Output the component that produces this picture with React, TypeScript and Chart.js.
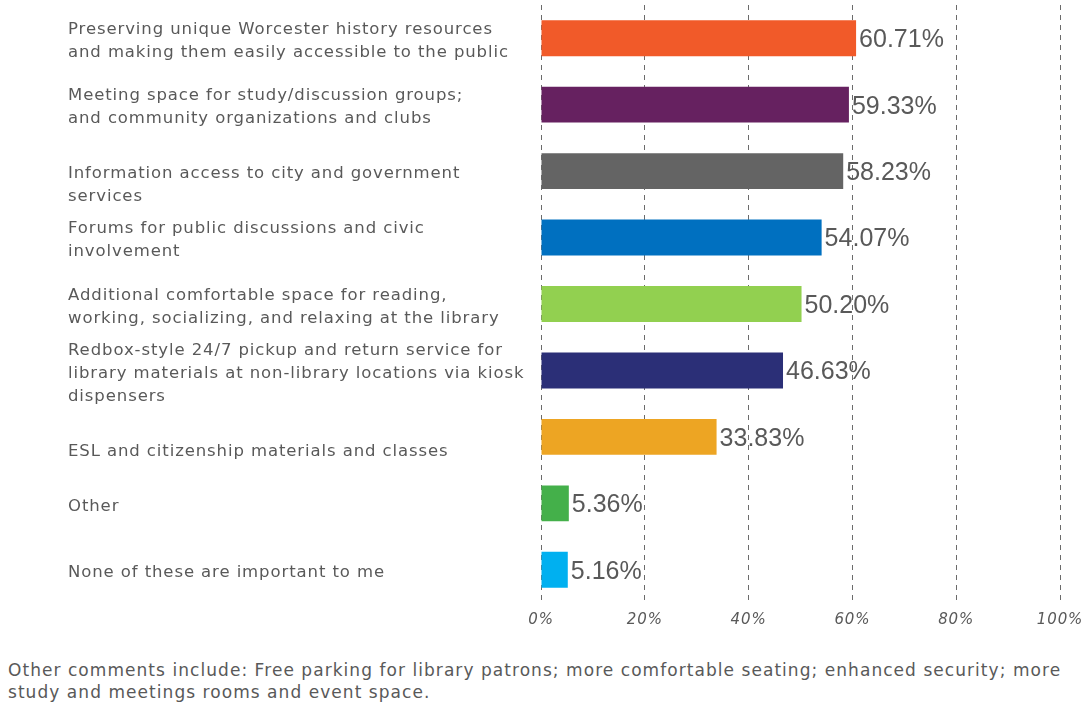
import React, { useEffect, useRef } from "react";
import { Chart, registerables } from "chart.js";

Chart.register(...registerables);

const categories: string[][] = [
  ["Preserving unique Worcester history resources", "and making them easily accessible to the public"],
  ["Meeting space for study/discussion groups;", "and community organizations and clubs"],
  ["", "Information access to city and government", "services"],
  ["Forums for public discussions and civic", "involvement"],
  ["Additional comfortable space for reading,", "working, socializing, and relaxing at the library"],
  ["Redbox-style 24/7 pickup and return service for", "library materials at non-library locations via kiosk", "dispensers"],
  ["", "ESL and citizenship materials and classes"],
  ["Other"],
  ["None of these are important to me"],
];

const values: number[] = [60.71, 59.33, 58.23, 54.07, 50.2, 46.63, 33.83, 5.36, 5.16];

const barColors: string[] = [
  "#F15A29",
  "#662160",
  "#646464",
  "#0070C0",
  "#92D050",
  "#2B2F77",
  "#EDA523",
  "#44B04A",
  "#00B0F0",
];

const xTicks: number[] = [0, 20, 40, 60, 80, 100];

const footnote: string[] = [
  "Other comments include: Free parking for library patrons; more comfortable seating; enhanced security; more",
  "study and meetings rooms and event space.",
];

const TEXT = "#595959";

const spacing = {
  id: "spacing",
  beforeDraw(chart: any) {
    chart.ctx.letterSpacing = "0.9px";
  },
  afterDraw(chart: any) {
    chart.ctx.letterSpacing = "0px";
  },
};

const valueLabels = {
  id: "valueLabels",
  afterDatasetsDraw(chart: any) {
    const ctx = chart.ctx;
    const meta = chart.getDatasetMeta(0);
    ctx.save();
    ctx.letterSpacing = "0px";
    ctx.font = "25px 'Liberation Sans', Arial, sans-serif";
    ctx.fillStyle = TEXT;
    ctx.textAlign = "left";
    ctx.textBaseline = "middle";
    meta.data.forEach((bar: any, i: number) => {
      const v = chart.data.datasets[0].data[i] as number;
      ctx.fillText(v.toFixed(2) + "%", bar.x + 3, bar.y + 2);
    });
    ctx.restore();
  },
};

export default function App() {
  const ref = useRef<HTMLCanvasElement>(null);

  useEffect(() => {
    if (!ref.current) return;
    const chart = new Chart(ref.current, {
      type: "bar",
      data: {
        labels: categories,
        datasets: [
          {
            data: values,
            backgroundColor: barColors,
            borderWidth: 0,
            categoryPercentage: 1,
            barPercentage: 0.54,
          },
        ],
      },
      options: {
        indexAxis: "y",
        animation: false,
        responsive: true,
        maintainAspectRatio: false,
        layout: { padding: { left: 68, top: 5, right: 23, bottom: 3 } },
        plugins: {
          legend: { display: false },
          tooltip: { enabled: false },
        },
        scales: {
          x: {
            min: 0,
            max: 100,
            afterBuildTicks(scale: any) {
              scale.ticks = xTicks.map((v) => ({ value: v }));
            },
            afterFit(scale: any) {
              scale.paddingLeft = 0;
              scale.paddingRight = 0;
            },
            ticks: {
              color: TEXT,
              padding: 8,
              font: { family: "'DejaVu Sans', sans-serif", size: 15, style: "italic" },
              callback: (v: any) => v + "%",
            },
            grid: {
              color: "#6b6b6b",
              lineWidth: 1,
              drawTicks: false,
            },
            border: { display: false, dash: [5, 5] },
          },
          y: {
            afterFit(scale: any) {
              scale.width = 541 - 68;
              scale.paddingTop = 0;
              scale.paddingBottom = 0;
            },
            ticks: {
              autoSkip: false,
              crossAlign: "far",
              labelOffset: 3,
              color: TEXT,
              font: { family: "'DejaVu Sans', sans-serif", size: 16.5, lineHeight: 23 / 16.5 },
            },
            grid: { display: false },
            border: { display: false },
          },
        },
      },
      plugins: [spacing, valueLabels],
    });
    return () => chart.destroy();
  }, []);

  return (
    <div style={{ position: "fixed", left: 0, top: 0, width: 1083, height: 705, background: "#fff" }}>
      <div style={{ position: "absolute", left: 0, top: 0, width: 1083, height: 640 }}>
        <canvas ref={ref} />
      </div>
      <div
        style={{
          position: "absolute",
          left: 8,
          top: 659,
          fontFamily: "'DejaVu Sans', sans-serif",
          fontSize: 17,
          letterSpacing: "1.05px",
          lineHeight: "22px",
          color: TEXT,
          whiteSpace: "nowrap",
        }}
      >
        {footnote.map((l, i) => (
          <div key={i}>{l}</div>
        ))}
      </div>
    </div>
  );
}
